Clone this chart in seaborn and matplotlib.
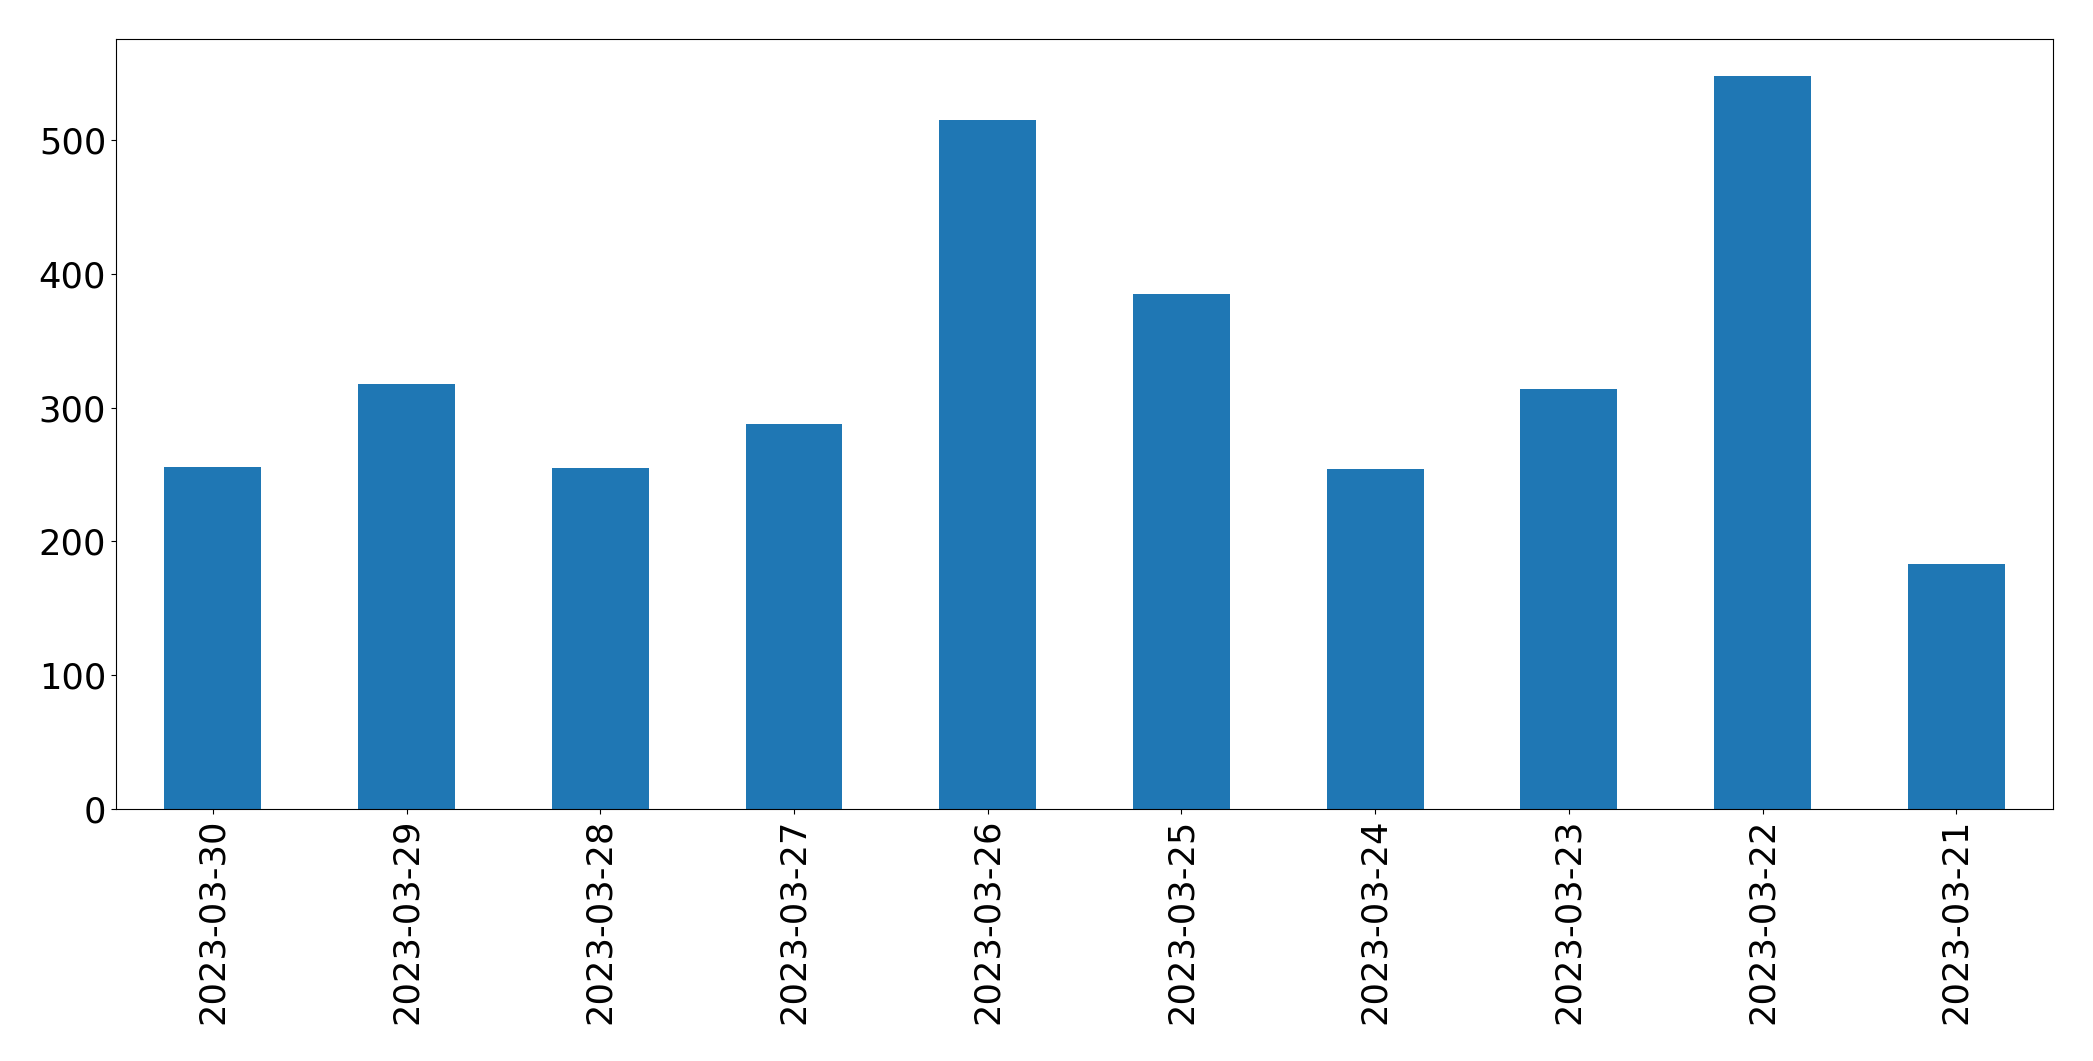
#!/usr/bin/env python3
"""Daily counts bar chart"""

import pandas as pd
import seaborn as sns
import matplotlib
matplotlib.use('Agg')
import matplotlib.pyplot as plt

DATES = ['2023-03-30', '2023-03-29', '2023-03-28', '2023-03-27', '2023-03-26',
         '2023-03-25', '2023-03-24', '2023-03-23', '2023-03-22', '2023-03-21']
COUNTS = [256, 318, 255, 288, 515, 385, 254, 314, 548, 183]

df = pd.DataFrame({'date': DATES, 'count': COUNTS})

fig, ax = plt.subplots(figsize=(20.93, 10.61), dpi=100)
sns.barplot(data=df, x='date', y='count', order=DATES, color='#1f77b4',
            saturation=1, width=0.5, linewidth=0, ax=ax)
ax.set_xlim(-0.5, len(DATES) - 0.5)
ax.set_xlabel('')
ax.set_ylabel('')
ax.tick_params(axis='both', labelsize=25.4)
ax.tick_params(axis='x', labelrotation=90)
plt.subplots_adjust(left=0.0554, right=0.981, top=0.963, bottom=0.2375)
plt.savefig('out.png')
